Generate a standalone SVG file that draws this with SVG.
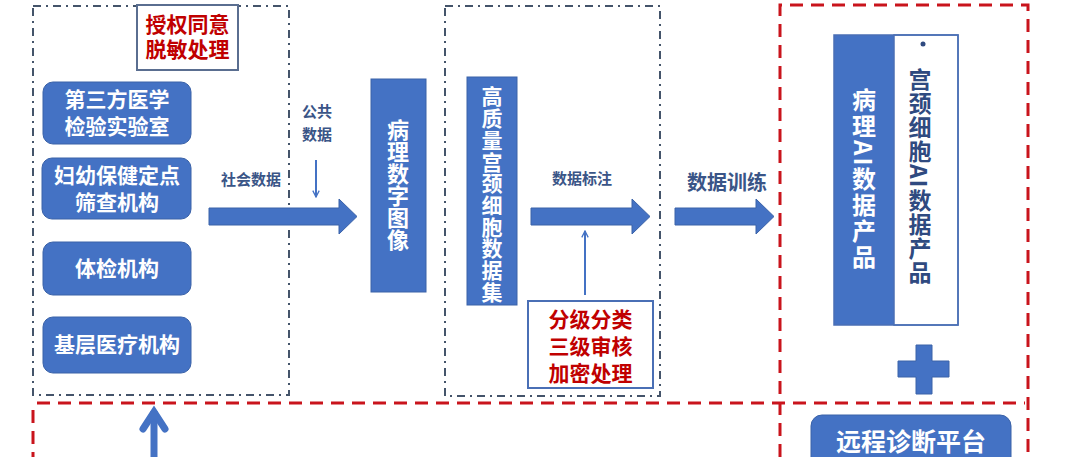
<svg xmlns="http://www.w3.org/2000/svg" width="1074" height="457" viewBox="0 0 1074 457">
<style>
.dd{fill:none;stroke:#44546A;stroke-width:2;stroke-dasharray:8 5 2 5}
.rd{fill:none;stroke:#C9141C;stroke-width:3;stroke-dasharray:13 8}
.node{fill:#4472C4;stroke:#3A62A8;stroke-width:1}
.nt{font-family:"Noto Sans CJK SC","Noto Sans",sans-serif;font-weight:700;fill:#fff;font-size:21px;text-anchor:middle}
.rt{font-family:"Noto Sans CJK SC","Noto Sans",sans-serif;font-weight:700;fill:#C00000;font-size:21px;text-anchor:middle}
.lb{font-family:"Noto Sans CJK SC","Noto Sans",sans-serif;font-weight:700;fill:#3A5587;text-anchor:middle}
.vt{font-family:"Noto Sans CJK SC","Noto Sans",sans-serif;font-weight:700;writing-mode:vertical-rl}
.blk{fill:#4472C4;stroke:#3A62A8;stroke-width:1}
.thin{fill:none;stroke:#4472C4;stroke-width:2}
</style>
<defs>
<marker id="ah" viewBox="0 0 10 10" refX="9" refY="5" markerWidth="8" markerHeight="8" markerUnits="userSpaceOnUse" orient="auto">
<path d="M1,1 L9,5 L1,9" fill="none" stroke="#4472C4" stroke-width="1.6"/>
</marker>
</defs>
<rect width="1074" height="457" fill="#fff"/>

<!-- region boundaries -->
<g id="regions">
<rect class="dd" x="33" y="6" width="256" height="389"/>
<rect class="dd" x="445" y="6" width="215" height="390"/>
<path class="rd" d="M780,457 V5 H1028 V457"/>
<path class="rd" d="M37,403 H1025"/>
<path class="rd" d="M33,410 V457"/>
</g>

<g id="consent">
<rect x="137" y="5" width="101" height="65" fill="#fff" stroke="#5A6E90" stroke-width="2"/>
<text class="rt" x="187.5" y="32">授权同意</text>
<text class="rt" x="187.5" y="57">脱敏处理</text>
</g>

<g id="n1">
<rect class="node" x="43" y="82" width="148" height="62" rx="10"/>
<text class="nt" x="117" y="107">第三方医学</text>
<text class="nt" x="117" y="134">检验实验室</text>
</g>
<g id="n2">
<rect class="node" x="42" y="158" width="149" height="61" rx="10"/>
<text class="nt" x="117" y="183">妇幼保健定点</text>
<text class="nt" x="117" y="210">筛查机构</text>
</g>
<g id="n3">
<rect class="node" x="43" y="242" width="148" height="53" rx="10"/>
<text class="nt" x="117" y="276">体检机构</text>
</g>
<g id="n4">
<rect class="node" x="43" y="317" width="148" height="56" rx="10"/>
<text class="nt" x="117" y="352">基层医疗机构</text>
</g>

<g id="image">
<rect class="node" x="371" y="79" width="55" height="213"/>
<text class="vt" x="398" y="119" font-size="22" fill="#fff" letter-spacing="0">病理数字图像</text>
</g>

<g id="dataset">
<rect class="node" x="467" y="77" width="50" height="228"/>
<text class="vt" x="492" y="86" font-size="21" fill="#fff" letter-spacing="0.7">高质量宫颈细胞数据集</text>
</g>

<g id="security">
<rect x="528" y="301" width="125" height="87" fill="#fff" stroke="#4A6FB5" stroke-width="2"/>
<text class="rt" x="590.5" y="327">分级分类</text>
<text class="rt" x="590.5" y="354">三级审核</text>
<text class="rt" x="590.5" y="381">加密处理</text>
</g>

<g id="products">
<rect x="834" y="35" width="60" height="290" fill="#4472C4"/>
<rect x="894" y="35" width="64" height="290" fill="#fff" stroke="#4A6FB5" stroke-width="1.5"/>
<rect x="834" y="35" width="124" height="290" fill="none" stroke="#4A6FB5" stroke-width="1.5"/>
<circle cx="923" cy="44" r="2.5" fill="#2F4A80"/>
<text class="vt" x="864" y="88" font-size="24" fill="#fff" letter-spacing="2">病理AI数据产品</text>
<text class="vt" x="920" y="68" font-size="23" fill="#2F4A80" letter-spacing="1">宫颈细胞AI数据产品</text>
</g>

<g id="plus">
<path d="M916,345 H932 V361 H949 V377 H932 V394 H916 V377 H898 V361 H916 Z" fill="#4472C4" stroke="#3A62A8" stroke-width="1"/>
</g>

<g id="remote">
<rect class="node" x="811" y="415" width="200" height="60" rx="11"/>
<text class="nt" x="911" y="451" font-size="25" style="font-size:25px">远程诊断平台</text>
</g>

<g id="connectors">
<path class="blk" d="M209,208 H339 V199 L357,216.5 L339,234 V225 H209 Z"/>
<path class="blk" d="M531,208 H632 V199 L650,216.5 L632,234 V225 H531 Z"/>
<path class="blk" d="M675,208 H756 V199 L774,216.5 L756,234 V225 H675 Z"/>
<line class="thin" x1="316" y1="160" x2="316" y2="197" marker-end="url(#ah)"/>
<line class="thin" x1="585" y1="295" x2="585" y2="231" marker-end="url(#ah)"/>
<path d="M154,457 V411" stroke="#4472C4" stroke-width="7" fill="none"/>
<path d="M143,429 L154,412 L165,429" stroke="#4472C4" stroke-width="7" fill="none" stroke-linecap="round" stroke-linejoin="miter"/>
<text class="lb" x="251" y="185" font-size="15">社会数据</text>
<text class="lb" x="317" y="117" font-size="15">公共</text>
<text class="lb" x="317" y="140" font-size="15">数据</text>
<text class="lb" x="582" y="184" font-size="15">数据标注</text>
<text class="lb" x="727" y="190" font-size="20">数据训练</text>
</g>
</svg>
